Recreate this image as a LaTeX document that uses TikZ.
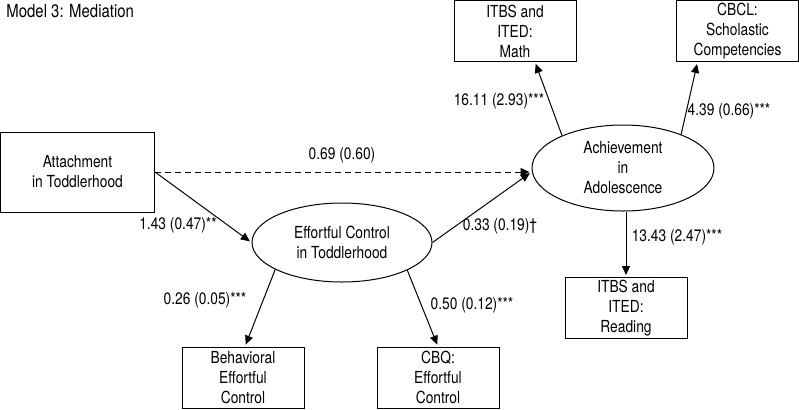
\documentclass[tikz,border=0pt]{standalone}
\usepackage{fontspec}
\setmainfont{TeX Gyre Heros}[FakeStretch=0.83]
\usetikzlibrary{positioning}
\usetikzlibrary{arrows.meta}
\usetikzlibrary{shapes.geometric}

\begin{document}
\begin{tikzpicture}[x=0.5pt, y=-0.5pt,
    box/.style = {draw, rectangle, line width=0.5pt, inner sep=0pt, minimum width=61pt, minimum height=30.5pt, align=center, font=\fontsize{8.3}{10}\selectfont},
    latent/.style = {draw, ellipse, line width=0.5pt, inner sep=0pt, align=center, font=\fontsize{8.3}{10}\selectfont},
    effect/.style = {-{Triangle[length=4.5pt,width=4pt]}, line width=0.5pt, shorten >=1pt},
    coef/.style = {inner sep=0pt, font=\fontsize{8.3}{10}\selectfont}]
          \useasboundingbox (0,0) rectangle (799,409);
          \node[anchor=west, inner sep=0pt](title) at (6,11) {\fontsize{9}{11}\selectfont Model 3: Mediation};
          \node[box, minimum width=77pt, minimum height=40pt](att) at (77.5,172) {Attachment\\in Toddlerhood};
          \node[latent, minimum width=90pt, minimum height=39.5pt](ec) at (342,242.5) {Effortful Control\\in Toddlerhood};
          \node[latent, minimum width=91pt, minimum height=43pt](ach) at (623,168) {Achievement\\in\\Adolescence};
          \node[box](math) at (515,31) {ITBS and\\ITED:\\Math};
          \node[box](cbcl) at (737.5,31) {CBCL:\\Scholastic\\Competencies};
          \node[box](read) at (626,308) {ITBS and\\ITED:\\Reading};
          \node[box](beh) at (243,377.5) {Behavioral\\Effortful\\Control};
          \node[box](cbq) at (438,377.5) {CBQ:\\Effortful\\Control};
          \coordinate (achin) at (att.east -| ach.west);
          % paths
          \draw[effect] (att.east) -- (ec.west);
          \draw[effect, dash pattern=on 3pt off 2pt] (att.east) -- (achin);
          \draw[effect] (ec.east) -- (achin);
          \draw[effect] (ach.152) -- ([xshift=10pt]math.south);
          \draw[effect] (ach.30) -- ([xshift=-20pt]cbcl.south);
          \draw[effect] (ach.south -| read.north) -- (read.north);
          \draw[effect] (ec.-158) -- ([xshift=1pt]beh.north);
          \draw[effect] (ec.-23) -- (cbq.north);
          % estimates
          \node[coef](attec) at (178,225) {1.43 (0.47)**};
          \node[coef](attach) at (342,155) {0.69 (0.60)};
          \node[coef](ecach) at (500,226) {0.33 (0.19)†};
          \node[coef](achmath) at (499,101) {16.11 (2.93)***};
          \node[coef](achcbcl) at (729,111) {4.39 (0.66)***};
          \node[coef](achread) at (677,237) {13.43 (2.47)***};
          \node[coef](ecbeh) at (205,300) {0.26 (0.05)***};
          \node[coef](eccbq) at (472,305) {0.50 (0.12)***};
        \end{tikzpicture}
\end{document}
